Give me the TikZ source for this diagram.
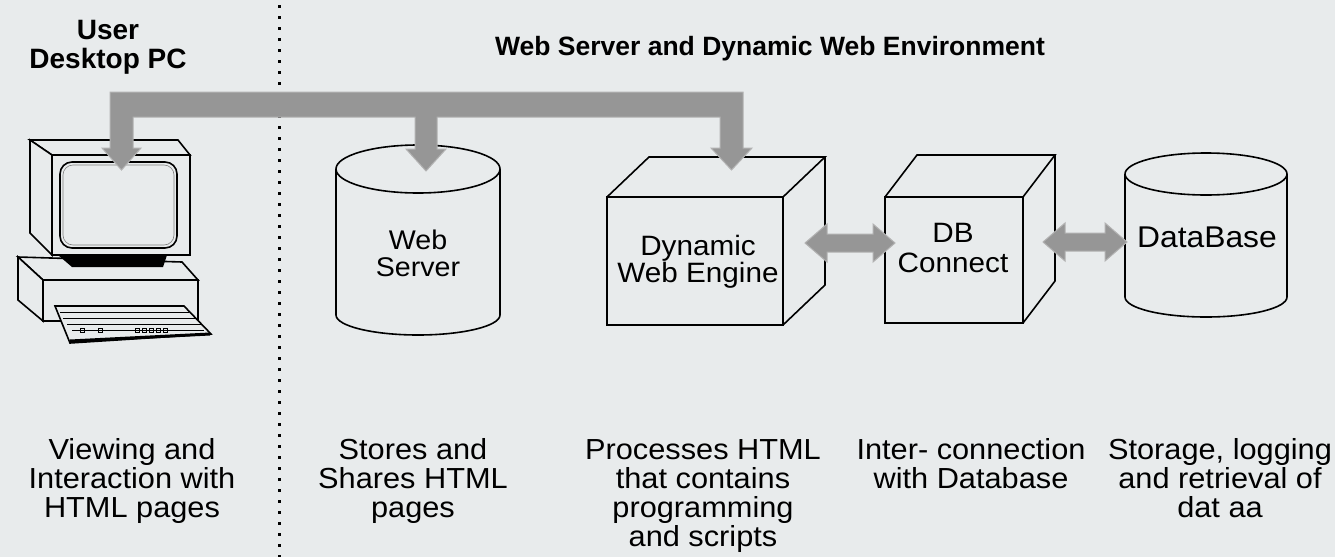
\documentclass[tikz,border=0pt]{standalone}
\usepackage{fontspec}
\setmainfont{Liberation Sans}
\newfontfamily\widefont[FakeStretch=1.06]{Liberation Sans}
\definecolor{bgcol}{RGB}{232,235,236}
\definecolor{barcol}{RGB}{150,150,150}
\definecolor{barline}{RGB}{178,178,178}
\tikzset{
  outl/.style={draw=black, line width=1.6pt, line join=miter},
  flowbar/.style={fill=barcol, draw=barline, line width=1pt, line join=miter},
  dotline/.style={draw=black, line width=3pt, dash pattern=on 3pt off 8pt},
  head/.style={font=\bfseries\fontsize{28}{29}\selectfont, align=center, inner sep=0pt, anchor=base},
  title/.style={font=\bfseries\fontsize{26.5}{29}\selectfont, inner sep=0pt, anchor=base},
  inlbl/.style={font=\widefont\fontsize{28}{27}\selectfont, align=center, inner sep=0pt, anchor=base},
  desc/.style={font=\widefont\fontsize{29}{29}\selectfont, align=center, inner sep=0pt, anchor=base},
}
\begin{document}
\begin{tikzpicture}[x=1pt,y=-1pt]
\fill[bgcol] (0,0) rectangle (1335,557);
\useasboundingbox (0,0) rectangle (1335,557);

% separator
\draw[dotline] (279,5) -- (279,557);

% headings
\node[head] (hUser) at (108,39) {User};
\node[head] (hDesk) at (108,68) {Desktop PC};
\node[title] (hWeb) at (770,55) {Web Server and Dynamic Web Environment};

% ---------- desktop PC ----------
% base unit
\draw[outl, fill=bgcol] (18,257) -- (182,262) -- (198,280) -- (43,280) -- cycle;
\draw[outl, fill=bgcol] (18,257) -- (18,300) -- (43,321) -- (43,280) -- cycle;
\draw[outl, fill=bgcol] (43,280) rectangle (198,321);
% keyboard
\draw[outl, fill=bgcol] (55,306) -- (184,306) -- (211,334) -- (70,343) -- cycle;
\draw[line width=3pt] (70,341) -- (210,334);
\draw[line width=0.8pt] (60,312) -- (189,312);
\draw[line width=0.8pt] (63,318) -- (195,318);
\draw[line width=0.8pt] (67,324) -- (201,324);
\draw[line width=0.8pt] (72,330) -- (204,330);
\foreach \kx in {80,98,135,142,149,156,163} {\draw[line width=0.7pt] (\kx,328) rectangle ++(4,4);}
% stand
\fill[black] (58,255) -- (167,255) -- (163,267) -- (72,267) -- cycle;
% monitor
\draw[outl, fill=bgcol] (30,140) -- (178,140) -- (190,155) -- (52,155) -- cycle;
\draw[outl, fill=bgcol] (30,140) -- (52,155) -- (52,255) -- (30,233) -- cycle;
\draw[outl, fill=bgcol] (52,155) rectangle (190,255);
\draw[outl, rounded corners=12pt] (60,162) rectangle (177,248);
\draw[line width=0.6pt, draw=gray, rounded corners=10pt] (63,165) rectangle (174,245);

% ---------- Web server cylinder ----------
\draw[outl, fill=bgcol] (336,169) -- (336,315)
  .. controls (336,326) and (373,335) .. (418,335)
  .. controls (463,335) and (500,326) .. (500,315) -- (500,169);
\draw[outl] (418,169) ellipse [x radius=82, y radius=24];
\node[inlbl, font=\widefont\fontsize{27}{27}\selectfont] (ws) at (418,276) {Web\\Server};

% ---------- Dynamic Web Engine cube ----------
\draw[outl] (607,197) rectangle (783,325);
\draw[outl] (607,197) -- (649,157) -- (825,157) -- (783,197);
\draw[outl] (825,157) -- (825,285) -- (783,325);
\node[inlbl] (dwe) at (698,282) {Dynamic\\Web Engine};

% ---------- DB Connect cube ----------
\draw[outl] (885,197) rectangle (1023,323);
\draw[outl] (885,197) -- (917,155) -- (1055,155) -- (1023,197);
\draw[outl] (1055,155) -- (1055,281) -- (1023,323);
\node[inlbl, font=\widefont\fontsize{28}{30}\selectfont] (dbc) at (953,272) {DB\\Connect};

% ---------- DataBase cylinder ----------
\draw[outl, fill=bgcol] (1125,174) -- (1125,297)
  .. controls (1125,308) and (1161,317) .. (1206,317)
  .. controls (1251,317) and (1287,308) .. (1287,297) -- (1287,174);
\draw[outl] (1206,174) ellipse [x radius=81, y radius=21];
\node[inlbl, font=\widefont\fontsize{30}{30}\selectfont] (db) at (1207,247) {DataBase};

% ---------- connectors ----------
\coordinate (dweR) at (805,243);
\coordinate (dbcL) at (895,243);
\coordinate (dbcR) at (1043,242);
\coordinate (dbL) at (1127,242);
\fill[flowbar] (dweR) -- ++(22,-19) -- ++(0,10) -- ++(46,0) -- ++(0,-10) -- (dbcL)
  -- ++(-22,19) -- ++(0,-10) -- ++(-46,0) -- ++(0,10) -- cycle;
\fill[flowbar] (dbcR) -- ++(22,-19) -- ++(0,10) -- ++(40,0) -- ++(0,-10) -- (dbL)
  -- ++(-22,19) -- ++(0,-10) -- ++(-40,0) -- ++(0,10) -- cycle;

% distribution bar
\coordinate (pcTip) at (121.5,170);
\coordinate (wsTip) at (426,171);
\coordinate (dweTip) at (731.5,170);
\fill[flowbar] (110,92) -- (743,92) -- (743,148) -- (752,148) -- (dweTip) -- (711,148) -- (720,148)
  -- (720,117) -- (437,117) -- (437,149) -- (446,149) -- (wsTip) -- (406,149) -- (415,149)
  -- (415,117) -- (133,117) -- (133,148) -- (141,148) -- (pcTip) -- (102,148) -- (110,148) -- cycle;

% ---------- descriptions ----------
\node[desc] (d1) at (132,517) {Viewing and\\Interaction with\\HTML pages};
\node[desc] (d2) at (413,517) {Stores and\\Shares HTML\\pages};
\node[desc] (d3) at (703,546) {Processes HTML\\that contains\\programming\\and scripts};
\node[desc] (d4) at (971,488) {Inter- connection\\with Database};
\node[desc] (d5) at (1220,517) {Storage, logging\\and retrieval of\\dat aa};
\end{tikzpicture}
\end{document}
